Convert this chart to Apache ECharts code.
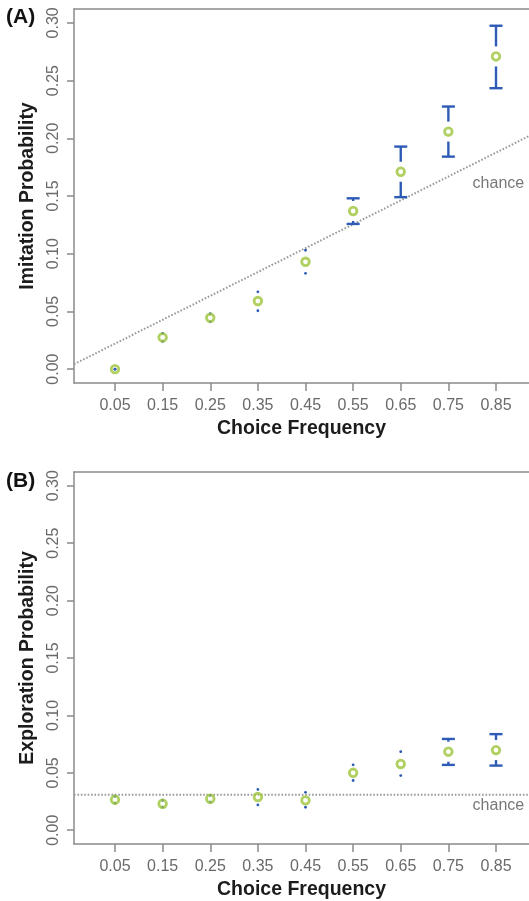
<!DOCTYPE html>
<html>
<head>
<meta charset="utf-8">
<script src="https://cdn.jsdelivr.net/npm/echarts@6/dist/echarts.min.js"></script>
<style>
html,body{margin:0;padding:0;background:#fff;}
#chart{width:529px;height:901px;}
</style>
</head>
<body>
<div id="chart"></div>
<script>
// ---- data ----
const choiceFrequency = [0.05, 0.15, 0.25, 0.35, 0.45, 0.55, 0.65, 0.75, 0.85];
const yTicks = [0.00, 0.05, 0.10, 0.15, 0.20, 0.25, 0.30];

const imitationMean = [0.000, 0.0275, 0.0445, 0.059, 0.093, 0.137, 0.171, 0.2058, 0.2709];
const imitationLow  = [0.000, 0.024, 0.041, 0.0506, 0.083, 0.1258, 0.149, 0.1841, 0.2434];
const imitationHigh = [0.000, 0.031, 0.048, 0.067, 0.103, 0.148, 0.1928, 0.2275, 0.2975];

const explorationMean = [0.0266, 0.0231, 0.0274, 0.0289, 0.026, 0.050, 0.0577, 0.0684, 0.0698];
const explorationLow  = [0.0236, 0.0201, 0.0244, 0.022, 0.020, 0.0433, 0.0476, 0.0569, 0.0563];
const explorationHigh = [0.0296, 0.0261, 0.0304, 0.0355, 0.033, 0.057, 0.0684, 0.0795, 0.0837];

const chanceAX = [-0.036, 0.9193];
const chanceAY = [0.0043, 0.2019];
const chanceBX = [-0.036, 0.9193];
const chanceBY = [0.031, 0.031];
const chanceLabelA = [0.855, 0.1604];
const chanceLabelB = [0.855, 0.0216];

// ---- style ----
const FONT = '"Liberation Sans", Arial, Helvetica, sans-serif';
const GREEN = '#9cc53a';
const BLUE = '#2d5bb6';
const AXIS = '#8a8a8a';
const TICKTXT = '#6a6a6a';
const XMIN = -0.0361, XMAX = 0.9193;

function renderErr(params, api) {
  const x = api.value(0), m = api.value(1), lo = api.value(2), hi = api.value(3);
  const pm = api.coord([x, m]);
  const pl = api.coord([x, lo]);
  const ph = api.coord([x, hi]);
  const children = [];
  const st = { stroke: BLUE, lineWidth: 2.4, fill: null };
  [ph, pl].forEach(function (p) {
    const d = Math.abs(p[1] - pm[1]);
    const dir = p[1] < pm[1] ? -1 : 1;
    if (d >= 12.5) {
      children.push({ type: 'line', shape: { x1: p[0] - 6.5, y1: p[1], x2: p[0] + 6.5, y2: p[1] }, style: st });
      children.push({ type: 'line', shape: { x1: p[0], y1: p[1], x2: p[0], y2: pm[1] + dir * 10 }, style: st });
    } else {
      children.push({ type: 'circle', shape: { cx: p[0], cy: p[1], r: 1.4 }, style: { fill: BLUE } });
    }
  });
  return { type: 'group', children: children };
}

function xAxisCfg(idx) {
  return {
    type: 'value', gridIndex: idx, min: XMIN, max: XMAX, position: 'bottom',
    name: 'Choice Frequency', nameLocation: 'middle', nameGap: 36,
    nameTextStyle: { fontFamily: FONT, fontSize: 19.5, fontWeight: 'bold', color: '#1c1c1c' },
    axisLine: { show: true, onZero: false, lineStyle: { color: AXIS, width: 1.5 } },
    axisTick: { show: true, length: 8, lineStyle: { color: AXIS, width: 1.5 }, customValues: choiceFrequency },
    axisLabel: { margin: 15, fontFamily: FONT, fontSize: 16, color: TICKTXT, customValues: choiceFrequency,
      formatter: function (v) { return v.toFixed(2); } },
    splitLine: { show: false }
  };
}
function xTopCfg(idx) {
  return {
    type: 'value', gridIndex: idx, min: XMIN, max: XMAX, position: 'top',
    axisLine: { show: true, onZero: false, lineStyle: { color: AXIS, width: 1.5 } },
    axisTick: { show: false }, axisLabel: { show: false }, splitLine: { show: false }
  };
}
function yAxisCfg(idx, name) {
  return {
    type: 'value', gridIndex: idx, min: -0.012, max: 0.312,
    name: name, nameLocation: 'middle', nameGap: 34,
    nameTextStyle: { fontFamily: FONT, fontSize: 19.5, fontWeight: 'bold', color: '#1c1c1c' },
    axisLine: { show: true, onZero: false, lineStyle: { color: AXIS, width: 1.5 } },
    axisTick: { show: true, length: 7, lineStyle: { color: AXIS, width: 1.5 }, customValues: yTicks },
    axisLabel: { margin: 12, rotate: 90, fontFamily: FONT, fontSize: 16, color: TICKTXT, customValues: yTicks,
      formatter: function (v) { return v.toFixed(2); } },
    splitLine: { show: false }
  };
}

function panelSeries(idx, mean, low, high, cx, cy, lbl) {
  return [
    {
      type: 'line', xAxisIndex: idx * 2, yAxisIndex: idx, silent: true, symbol: 'none',
      data: cx.map(function (v, i) { return [v, cy[i]]; }),
      lineStyle: { color: '#9a9a9a', width: 2, type: [1.6, 1.8] }, z: 1
    },
    {
      type: 'custom', xAxisIndex: idx * 2, yAxisIndex: idx, silent: true, renderItem: renderErr,
      encode: { x: 0, y: [1, 2, 3] },
      data: choiceFrequency.map(function (c, i) { return [c, mean[i], low[i], high[i]]; }), z: 2
    },
    {
      type: 'scatter', xAxisIndex: idx * 2, yAxisIndex: idx, silent: true, symbol: 'circle', symbolSize: 7.6,
      itemStyle: { color: 'rgba(0,0,0,0)', borderColor: GREEN, borderWidth: 2.8 },
      data: choiceFrequency.map(function (c, i) { return [c, mean[i]]; }), z: 3
    },
    {
      type: 'scatter', xAxisIndex: idx * 2, yAxisIndex: idx, silent: true, symbolSize: 0,
      label: { show: true, position: 'inside', formatter: 'chance', fontFamily: FONT, fontSize: 16, color: '#555' },
      data: [lbl], z: 4
    }
  ];
}

const chart = echarts.init(document.getElementById('chart'), null, { renderer: 'canvas' });
chart.setOption({
  animation: false,
  backgroundColor: '#fff',
  grid: [
    { left: 74, right: 0, top: 9, bottom: 518, show: false },
    { left: 74, right: 0, top: 472, bottom: 56, show: false }
  ],
  xAxis: [xAxisCfg(0), xTopCfg(0), xAxisCfg(1), xTopCfg(1)],
  yAxis: [yAxisCfg(0, 'Imitation Probability'), yAxisCfg(1, 'Exploration Probability')],
  graphic: [
    { type: 'text', left: 6, top: 7, style: { text: '(A)', fontFamily: FONT, fontSize: 21, fontWeight: 'bold', fill: '#111' } },
    { type: 'text', left: 6, top: 471, style: { text: '(B)', fontFamily: FONT, fontSize: 21, fontWeight: 'bold', fill: '#111' } }
  ],
  series: [].concat(
    panelSeries(0, imitationMean, imitationLow, imitationHigh, chanceAX, chanceAY, chanceLabelA),
    panelSeries(1, explorationMean, explorationLow, explorationHigh, chanceBX, chanceBY, chanceLabelB)
  )
});
</script>
</body>
</html>
